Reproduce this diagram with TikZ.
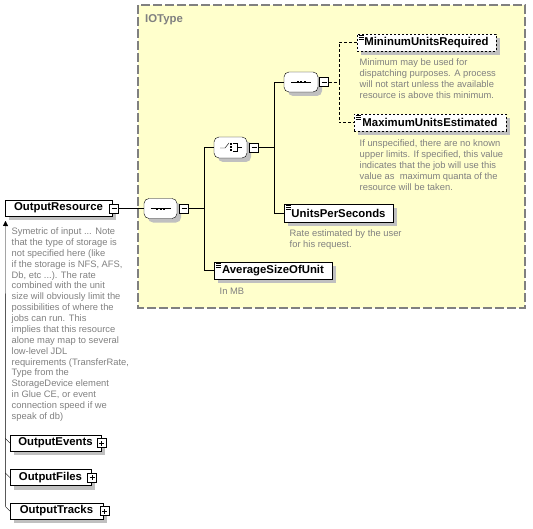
\documentclass[tikz,border=0pt]{standalone}
\usepackage{fontspec}
\setmainfont{Liberation Sans}
\usetikzlibrary{positioning}
\usetikzlibrary{shadows}
\usetikzlibrary{arrows.meta}

\definecolor{typefill}{HTML}{FFFFCC}
\definecolor{typeline}{HTML}{808080}
\definecolor{descgray}{HTML}{808080}
\definecolor{shadowgray}{HTML}{C0C0C0}

\tikzset{
  boxshadow/.style={drop shadow={shadow xshift=4bp,shadow yshift=-4bp,fill=shadowgray,opacity=1}},
  elem/.style={draw,fill=white,inner sep=0pt,minimum height=17bp,boxshadow,
    font=\fontsize{11.4}{13}\selectfont\bfseries},
  optelem/.style={elem,dash pattern=on 2bp off 2bp},
  compositor/.style={rectangle,rounded corners=5bp,draw,fill=white,
    inner sep=0pt,minimum width=33bp,minimum height=20bp,boxshadow},
  minusbox/.style={draw,fill=white,minimum size=9bp,inner sep=0pt,
    path picture={\draw ([xshift=2bp]path picture bounding box.west) -- ([xshift=-2bp]path picture bounding box.east);}},
  plusbox/.style={draw,fill=white,minimum size=9bp,inner sep=0pt,
    path picture={\draw ([xshift=2bp]path picture bounding box.west) -- ([xshift=-2bp]path picture bounding box.east);
      \draw ([yshift=2bp]path picture bounding box.south) -- ([yshift=-2bp]path picture bounding box.north);}},
  desc/.style={text=descgray,align=left,anchor=north west,inner sep=0pt,
    font=\fontsize{9.4}{10.9}\selectfont},
  optline/.style={dash pattern=on 3bp off 2bp}
}

\begin{document}
\begin{tikzpicture}[x=1bp,y=-1bp]
\useasboundingbox (0,0) rectangle (533,529);

% complex type
\draw[typeline,fill=typefill,line width=1.5bp,dash pattern=on 9bp off 3bp] (138,5) rectangle (525,308);
\node[text=typeline,anchor=base west,inner sep=0pt,font=\fontsize{11.4}{13}\selectfont\bfseries] (typename) at (145,22.7) {IOType};

% root element
\node[elem,minimum width=107bp,minimum height=16bp] (res) at (58.5,208) {OutputResource};
\node[minusbox] (togres) at (114,208.5) {};
\node[desc] (resdoc) at (11.5,227.7) {Symetric of input ... Note\\that the type of storage is\\not specified here (like\\if the storage is NFS, AFS,\\Db, etc ...). The rate\\combined with the unit\\size will obviously limit the\\possibilities of where the\\jobs can run. This\\implies that this resource\\alone may map to several\\low-level JDL\\requirements (TransferRate,\\Type from the\\StorageDevice element\\in Glue CE, or event\\connection speed if we\\speak of db)};

% siblings
\node[elem,minimum width=91bp,minimum height=16bp] (oev) at (55.5,443) {OutputEvents};
\node[plusbox] (togoev) at (101.5,443) {};
\node[elem,minimum width=81bp,minimum height=16bp] (ofi) at (50.5,477.5) {OutputFiles};
\node[plusbox] (togofi) at (92,477.5) {};
\node[elem,minimum width=93bp,minimum height=16bp] (otr) at (56.5,511) {OutputTracks};
\node[plusbox] (togotr) at (104.5,511) {};

\coordinate (vtop) at (5.5,221);
\draw[-{Triangle[length=5bp,width=5bp]}] ([xshift=-4.5bp,yshift=4.5bp]otr.west) -- (vtop);
\foreach \n in {oev,ofi,otr}
{
	\draw (\n.west) -- ++(-4.5,-4.5);
}

% compositors
\node[compositor] (seqA) at (160.5,208.5) {};
\node[minusbox] (togA) at (184,208.5) {};
\node[compositor,minimum height=21bp] (choiceB) at (230.5,147.5) {};
\node[minusbox] (togB) at (254,147.5) {};
\node[compositor,minimum width=34bp] (seqC) at (301,82) {};
\node[minusbox] (togC) at (324,82) {};

\foreach \s in {seqA,seqC}
{
	\draw ([xshift=-10bp]\s.center) -- ([xshift=10bp]\s.center);
	\foreach \d in {-3.5,0,3.5}
		\fill ([xshift=\d bp]\s.center) +(-1,-1) rectangle +(1,1);
}
\begin{scope}[shift={(choiceB.center)}]
\draw (-10.5,0.5) -- (-5.5,0.5) -- (-1.5,-4.5);
\foreach \d in {-3.5,-0.5,2.5}
	\fill (0.5,\d) +(-1,-1) rectangle +(1,1);
\draw (2,-4.5) -- (6.5,-4.5) -- (6.5,3.5) -- (2,3.5);
\draw (6.5,-0.5) -- (11.5,-0.5);
\end{scope}

% child elements
\node[optelem,minimum width=139bp] (minu) at (426.5,42.5) {MininumUnitsRequired};
\node[optelem,minimum width=152bp] (maxu) at (430,122.5) {MaximumUnitsEstimated};
\node[elem,minimum width=109bp,minimum height=18bp] (ups) at (338.5,213) {UnitsPerSeconds};
\node[elem,minimum width=118bp] (avg) at (273,270.5) {AverageSizeOfUnit};
\foreach \e in {minu,maxu,ups,avg}
{
	\foreach \k in {1.5,3.5,5.5}
		\draw ([xshift=2bp,yshift={-\k*1bp}]\e.north west) -- ++(5,0);
}

\node[desc] (minudoc) at (359.5,58.9) {Minimum may be used for\\dispatching purposes. A process\\will not start unless the available\\resource is above this minimum.};
\node[desc] (maxudoc) at (359.5,139.9) {If unspecified, there are no known\\upper limits. If specified, this value\\indicates that the job will use this\\value as\ \ maximum quanta of the\\resource will be taken.};
\node[desc] (upsdoc) at (289.5,229.7) {Rate estimated by the user\\for his request.};
\node[desc] (avgdoc) at (219.5,287.7) {In MB};

% connectors
\draw (togres.east) -- (seqA.west);
\draw (togA.east) -- ++(15,0) coordinate (jA);
\draw (jA) |- (choiceB.west);
\draw (jA) |- (avg.west);
\draw (togB.east) -- ++(15,0) coordinate (jB);
\draw (jB) |- (seqC.west);
\draw (jB) |- (ups.west);
\draw[optline] (togC.east) -- ++(10,0) coordinate (jC);
\draw[optline] (jC) |- (minu.west);
\draw[optline] (jC) |- (maxu.west);
\end{tikzpicture}
\end{document}
